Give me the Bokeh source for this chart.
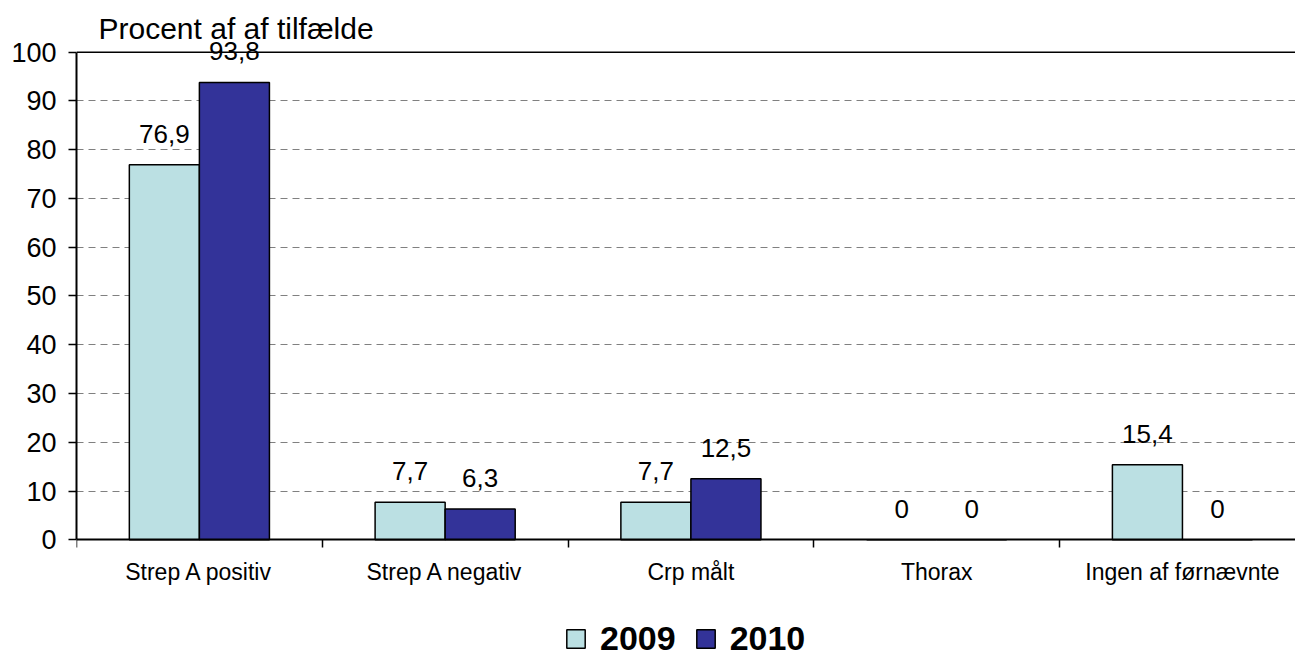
from bokeh.plotting import figure
from bokeh.models import (Range1d, FixedTicker, ColumnDataSource, LabelSet, Label,
                          Span, Legend, LegendItem)
from bokeh.core.properties import value
from bokeh.embed import file_html
from bokeh.resources import INLINE

categories = ["Strep A positiv", "Strep A negativ", "Crp målt", "Thorax", "Ingen af førnævnte"]
v2009 = [76.9, 7.7, 7.7, 0, 15.4]
v2010 = [93.8, 6.3, 12.5, 0, 0]
series = ["2009", "2010"]
colors = ["#BBE0E3", "#333399"]
yticks = list(range(0, 101, 10))
title_text = "Procent af af tilfælde"

FONT = "Liberation Sans"
n = len(categories)
centers = [i + 0.5 for i in range(n)]
bw = 0.285

def fmt(v):
    return "0" if v == 0 else f"{v:.1f}".replace(".", ",")

p = figure(width=1295, height=659, output_backend="svg", toolbar_location=None,
           x_range=Range1d(0, 4.96), y_range=Range1d(-24.55, 110.6),
           min_border_left=76, min_border_right=0, min_border_top=0, min_border_bottom=0)
p.outline_line_color = None
p.background_fill_color = "white"
p.xgrid.visible = False

renderers = []
for k, (vals, col) in enumerate(zip([v2009, v2010], colors)):
    xs = [c + (k - 0.5) * bw for c in centers]
    src = ColumnDataSource(dict(x=xs, top=vals, lab=[fmt(v) for v in vals]))
    r = p.vbar(x="x", top="top", width=bw, bottom=0, source=src, fill_color=col,
               line_color="black", line_width=1.5)
    renderers.append(r)
    p.add_layout(LabelSet(x="x", y="top", text="lab", source=src, y_offset=31,
                          text_align="center", text_baseline="middle",
                          text_font=value(FONT), text_font_size=value("26px"),
                          text_color="black"))

p.add_layout(Span(location=100, dimension="width", line_color="black", line_width=1.5))

# y axis
p.yaxis.ticker = FixedTicker(ticks=yticks)
p.yaxis.bounds = (0, 100)
p.yaxis.axis_line_width = 2
p.yaxis.axis_line_color = "black"
p.yaxis.major_tick_out = 8
p.yaxis.major_tick_in = 0
p.yaxis.major_tick_line_width = 1.5
p.yaxis.minor_tick_line_color = None
p.yaxis.major_label_standoff = 12
p.yaxis.major_label_text_font = FONT
p.yaxis.major_label_text_font_size = "27px"
p.yaxis.major_label_text_color = "black"

p.ygrid.ticker = FixedTicker(ticks=yticks[1:-1])
p.ygrid.grid_line_color = "#808080"
p.ygrid.grid_line_dash = "7 5"
p.ygrid.grid_line_width = 1

# x axis
p.xaxis.fixed_location = 0
p.xaxis.ticker = FixedTicker(ticks=centers, minor_ticks=list(range(n + 1)))
p.xaxis.major_label_overrides = {c: lab for c, lab in zip(centers, categories)}
p.xaxis.axis_line_width = 2
p.xaxis.axis_line_color = "black"
p.xaxis.major_tick_out = 0
p.xaxis.major_tick_in = 0
p.xaxis.minor_tick_out = 8
p.xaxis.minor_tick_in = 0
p.xaxis.minor_tick_line_color = "black"
p.xaxis.minor_tick_line_width = 1.5
p.xaxis.major_label_standoff = 11
p.xaxis.major_label_text_font = FONT
p.xaxis.major_label_text_font_size = "23px"
p.xaxis.major_label_text_color = "black"

p.add_layout(Label(x=0.0895, y=100, y_offset=24, text=title_text, text_font=FONT,
                   text_font_size="30px", text_baseline="alphabetic", text_color="black"))

legend = Legend(items=[LegendItem(label=s, renderers=[r]) for s, r in zip(series, renderers)],
                location=(488, 1), orientation="horizontal",
                glyph_width=23, glyph_height=23, label_standoff=13, spacing=18,
                padding=0, margin=0, border_line_alpha=0, background_fill_alpha=0,
                label_text_font=FONT, label_text_font_size="34px",
                label_text_font_style="bold", label_text_color="black")
p.add_layout(legend, "center")

open("out.html", "w").write(file_html(p, INLINE))
